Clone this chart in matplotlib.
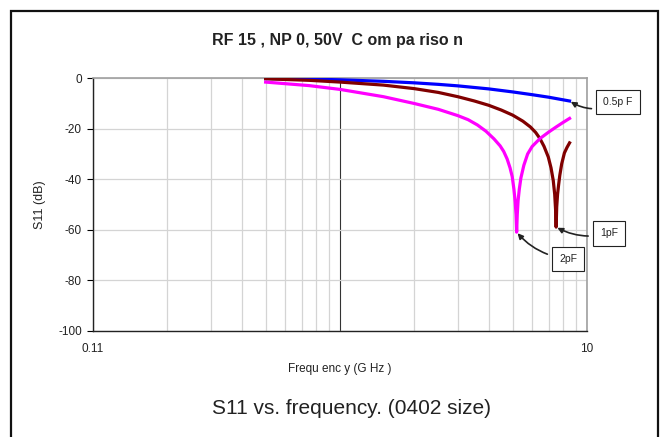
import numpy as np
import matplotlib
matplotlib.use('Agg')
import matplotlib.pyplot as plt
from matplotlib.patches import Rectangle

plt.rcParams['font.family'] = ['Liberation Sans', 'DejaVu Sans']

#------------------------ data (GHz, dB)

f_05pf = [0.5, 0.75, 1.0, 1.5, 2.0, 2.5, 3.0, 4.0, 5.0, 6.0, 7.0, 8.5]
s11_05pf = [-0.1, -0.3, -0.6, -1.2, -1.8, -2.4, -3.0, -4.2, -5.4, -6.5, -7.5, -9.0]

f_1pf = [0.5, 0.75, 1.0, 1.5, 2.0, 2.5, 3.0, 3.5, 4.0, 4.5, 5.0, 5.5, 5.9, 6.2, 6.45, 6.7, 6.97,
         7.15, 7.3, 7.4, 7.46, 7.5, 7.54, 7.6, 7.67, 7.76, 7.9, 8.1, 8.3, 8.5]
s11_1pf = [-0.2, -0.8, -1.5, -2.7, -4.1, -5.6, -7.3, -9.0, -10.7, -12.6, -14.6, -17.0, -19.3,
           -21.5, -23.9, -27.0, -31.2, -35.5, -40.5, -46.0, -52.0, -59.0, -51.0, -46.0, -42.5,
           -38.5, -33.9, -29.6, -27.4, -25.6]

f_2pf = [0.5, 0.75, 1.0, 1.5, 2.0, 2.5, 3.0, 3.3, 3.6, 3.9, 4.2, 4.45, 4.6, 4.75, 4.88, 4.98,
         5.06, 5.12, 5.16, 5.19, 5.22, 5.26, 5.32, 5.4, 5.55, 5.75, 6.0, 6.45, 7.0, 7.5, 8.0, 8.5]
s11_2pf = [-1.5, -2.9, -4.4, -7.3, -10.0, -12.3, -14.8, -16.4, -18.5, -21.0, -24.0, -26.8, -29.0,
           -32.0, -35.5, -39.0, -44.0, -49.0, -54.0, -61.0, -54.0, -48.5, -44.0, -39.5, -34.5,
           -30.0, -27.0, -23.9, -21.3, -19.3, -17.5, -15.9]

series = [
    ('0.5p F', f_05pf, s11_05pf, '#0000ff'),
    ('1pF', f_1pf, s11_1pf, '#800000'),
    ('2pF', f_2pf, s11_2pf, '#ff00ff'),
]

# callout boxes: text centre (figure pixels), point pointed at, arrow bend
callouts = {
    '0.5p F': ((618, 335), (8.5, -9.0), -0.3),
    '1pF': ((609, 203.5), (7.5, -59.0), -0.2),
    '2pF': ((568, 178), (5.19, -61.0), -0.2),
}

#------------------------

W, H = 663, 437
fig = plt.figure(figsize=(W / 100, H / 100), dpi=100)
ax = fig.add_axes([93 / W, 1 - 330.5 / H, (587 - 93) / W, (330.5 - 78.3) / H])

for label, f, s, c in series:
    ax.plot(f, s, color=c, lw=2.3, solid_joinstyle='round', zorder=3)

ax.set_xscale('log')
ax.set_xlim(0.1, 10)
ax.set_ylim(-100, 0)

ax.set_xticks([0.1, 1, 10])
ax.set_xticklabels(['0.11', '', '10'])
ax.set_xticks([0.2, 0.3, 0.4, 0.5, 0.6, 0.7, 0.8, 0.9, 2, 3, 4, 5, 6, 7, 8, 9], minor=True)
ax.xaxis.set_minor_formatter(plt.NullFormatter())
ax.set_yticks([0, -20, -40, -60, -80, -100])
ax.set_yticklabels(['0', '-20', '-40', '-60', '-80', '-100'])

ax.tick_params(axis='x', which='both', length=0, pad=9, labelsize=8.5, labelcolor='#222222')
ax.tick_params(axis='y', length=4, width=0.8, pad=4, labelsize=8.5, labelcolor='#222222')

ax.xaxis.grid(True, which='minor', color='#d4d4d4', lw=0.9)
ax.xaxis.grid(True, which='major', color='#333333', lw=0.8)
ax.yaxis.grid(True, color='#d4d4d4', lw=0.9)
ax.set_axisbelow(True)

for side in ['left', 'bottom']:
    ax.spines[side].set_color('#222222')
    ax.spines[side].set_linewidth(1.0)
for side in ['top', 'right']:
    ax.spines[side].set_color('#a0a0a0')
    ax.spines[side].set_linewidth(1.2)

ax.set_xlabel('Frequ enc y (G Hz )', fontsize=8.5, color='#222222', labelpad=6)
ax.set_ylabel('S11 (dB)', fontsize=9, color='#222222', labelpad=9)

fig.text(337 / W, 1 - 40 / H, 'RF 15 , NP 0, 50V  C om pa riso n', ha='center', va='center',
         fontsize=11.5, fontweight='bold', color='#222222')
fig.text(352 / W, 1 - 409 / H, 'S11 vs. frequency. (0402 size)', ha='center', va='center',
         fontsize=15, color='#222222')

for label, (txt_xy, pt, rad) in callouts.items():
    ax.annotate(label, xy=pt, xytext=txt_xy, textcoords='figure pixels',
                ha='center', va='center', fontsize=7.5, color='#222222', annotation_clip=False,
                bbox=dict(boxstyle='square,pad=0.7', fc='white', ec='#222222', lw=0.8),
                arrowprops=dict(arrowstyle='-|>', color='#222222', lw=1.2, mutation_scale=8,
                                shrinkA=3, shrinkB=1, connectionstyle=f'arc3,rad={rad}'))

# outer chart frame
fig.add_artist(Rectangle((11 / W, -0.05), (658 - 11) / W, 1.05 - 11 / H, transform=fig.transFigure,
                         fill=False, ec='#111111', lw=1.6))

fig.savefig('out.png', dpi=100)
